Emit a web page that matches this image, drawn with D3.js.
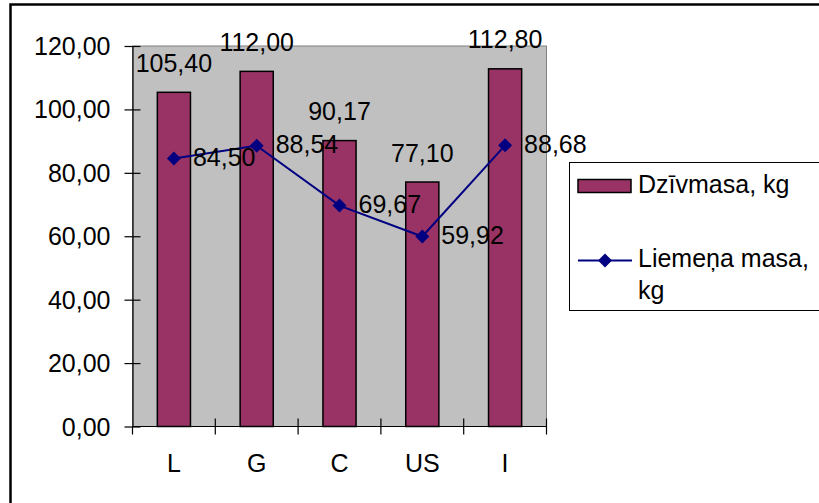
<!DOCTYPE html>
<html>
<head>
<meta charset="utf-8">
<script src="https://cdn.jsdelivr.net/npm/d3@7"></script>
<style>
  html, body { margin: 0; padding: 0; background: #fff; }
  svg { display: block; }
  text { font-family: "Liberation Sans", Arial, sans-serif; font-size: 25px; fill: #000; }
</style>
</head>
<body>
<svg id="chart" width="819" height="503"></svg>
<script>
// Chart data
const categories = ["L", "G", "C", "US", "I"];
const liveWeight = [105.40, 112.00, 90.17, 77.10, 112.80];   // Dzīvmasa, kg
const carcassWeight = [84.50, 88.54, 69.67, 59.92, 88.68];   // Liemeņa masa, kg
const yTicks = [0, 20, 40, 60, 80, 100, 120];
const seriesNames = ["Dzīvmasa, kg", ["Liemeņa masa,", "kg"]];

const fmt = v => d3.format(".2f")(v).replace(".", ",");

const svg = d3.select("#chart");

// Outer chart frame (extends past the right/bottom edge of the canvas)
svg.append("rect")
  .attr("x", 10.5).attr("y", 4.5)
  .attr("width", 900).attr("height", 600)
  .attr("fill", "#fff").attr("stroke", "#000").attr("stroke-width", 2.5);

const plot = { left: 132.5, right: 546.5, top: 46, bottom: 426.5 };

const x = d3.scaleBand()
  .domain(categories)
  .range([plot.left, plot.right])
  .paddingInner(0.6)
  .paddingOuter(0.3);

const y = d3.scaleLinear()
  .domain([0, 120])
  .range([plot.bottom, plot.top]);

// Plot area background
svg.append("rect")
  .attr("x", plot.left).attr("y", plot.top)
  .attr("width", plot.right - plot.left).attr("height", plot.bottom - plot.top)
  .attr("fill", "#C0C0C0").attr("stroke", "#808080").attr("stroke-width", 1);

// Bars
svg.append("g").selectAll("rect")
  .data(liveWeight)
  .join("rect")
  .attr("x", (d, i) => x(categories[i]))
  .attr("y", d => y(d))
  .attr("width", x.bandwidth())
  .attr("height", d => y(0) - y(d))
  .attr("fill", "#993366")
  .attr("stroke", "#000")
  .attr("stroke-width", 1.5);

// Y axis
const yAxis = d3.axisLeft(y)
  .tickValues(yTicks)
  .tickFormat(fmt)
  .tickSizeInner(8)
  .tickSizeOuter(0)
  .tickPadding(14);
const gy = svg.append("g").attr("transform", `translate(${plot.left},0)`).call(yAxis);
gy.select(".domain").attr("stroke", "#000").attr("stroke-width", 1.2);
gy.selectAll(".tick line").attr("x1", 8).attr("x2", -8).attr("stroke", "#000").attr("stroke-width", 1.2);
gy.selectAll(".tick text")
  .attr("font-size", 25).attr("font-family", "Liberation Sans, Arial, sans-serif")
  .attr("dy", "0.34em").attr("fill", "#000");

// X axis: ticks sit on the category boundaries
const boundaries = d3.range(categories.length + 1).map(i => plot.left + i * x.step());
const gx = svg.append("g");
gx.append("line")
  .attr("x1", plot.left).attr("x2", plot.right)
  .attr("y1", y(0)).attr("y2", y(0))
  .attr("stroke", "#000").attr("stroke-width", 1.2);
gx.selectAll("line.tick")
  .data(boundaries)
  .join("line")
  .attr("class", "tick")
  .attr("x1", d => d).attr("x2", d => d)
  .attr("y1", (d, i) => i === 0 ? y(0) : y(0) - 8)
  .attr("y2", y(0) + 8)
  .attr("stroke", "#000").attr("stroke-width", 1.2);
gx.selectAll("text")
  .data(categories)
  .join("text")
  .attr("x", d => x(d) + x.bandwidth() / 2)
  .attr("y", 472)
  .attr("text-anchor", "middle")
  .text(d => d);

// Carcass weight line with diamond markers
const cx = i => x(categories[i]) + x.bandwidth() / 2;
const line = d3.line().x((d, i) => cx(i)).y(d => y(d));
svg.append("path")
  .datum(carcassWeight)
  .attr("d", line)
  .attr("fill", "none")
  .attr("stroke", "#000080")
  .attr("stroke-width", 2);

const diamond = d3.symbol().type(d3.symbolDiamond2).size(125);
svg.append("g").selectAll("path")
  .data(carcassWeight)
  .join("path")
  .attr("transform", (d, i) => `translate(${cx(i)},${y(d)})`)
  .attr("d", diamond)
  .attr("fill", "#000080");

// Value labels for bars
svg.append("g").selectAll("text")
  .data(liveWeight)
  .join("text")
  .attr("x", (d, i) => cx(i))
  .attr("y", d => y(d) - 20.5)
  .attr("text-anchor", "middle")
  .text(fmt);

// Value labels for line points
svg.append("g").selectAll("text")
  .data(carcassWeight)
  .join("text")
  .attr("x", (d, i) => cx(i) + 19)
  .attr("y", d => y(d) + 7.5)
  .text(fmt);

// Legend
const lg = svg.append("g");
lg.append("rect")
  .attr("x", 569.5).attr("y", 162.5)
  .attr("width", 300).attr("height", 148)
  .attr("fill", "#fff").attr("stroke", "#000").attr("stroke-width", 1);
lg.append("rect")
  .attr("x", 578).attr("y", 179.5)
  .attr("width", 53).attr("height", 13)
  .attr("fill", "#993366").attr("stroke", "#000").attr("stroke-width", 1.5);
lg.append("text").attr("x", 638).attr("y", 193).text(seriesNames[0]);
lg.append("line")
  .attr("x1", 578).attr("x2", 632).attr("y1", 260.5).attr("y2", 260.5)
  .attr("stroke", "#000080").attr("stroke-width", 2);
lg.append("path")
  .attr("transform", "translate(605,260.5)")
  .attr("d", diamond)
  .attr("fill", "#000080");
lg.append("text").attr("x", 638).attr("y", 266.5).text(seriesNames[1][0]);
lg.append("text").attr("x", 638).attr("y", 299).text(seriesNames[1][1]);
</script>
</body>
</html>
